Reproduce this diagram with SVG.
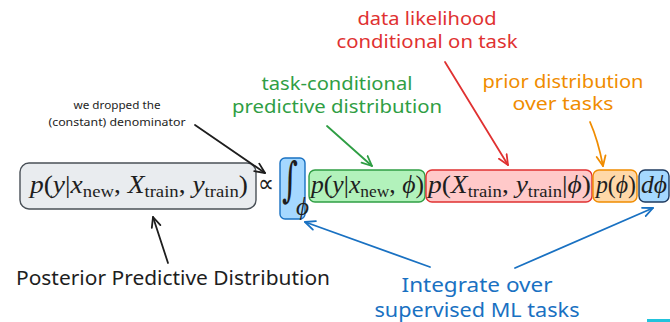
<svg xmlns="http://www.w3.org/2000/svg" width="670" height="322" viewBox="0 0 670 322">
<style>
  .hand { font-family: "Noto Sans", "Liberation Sans", sans-serif; }
  .m { font-family: "Liberation Serif", "DejaVu Serif", serif; font-size: 25px; fill: #1e1e1e; }
  .i { font-style: italic; }
  .sub { font-size: 17px; font-style: normal; }
  .conn { fill: none; stroke-width: 1.8; stroke-linecap: round; }
</style>
<defs>
  <marker id="ah-k" viewBox="0 0 12 12" refX="11" refY="6" markerWidth="12" markerHeight="12" markerUnits="userSpaceOnUse" orient="auto"><path d="M1,1.5 L11,6 L1,10.5" fill="none" stroke="#1e1e1e" stroke-width="1.8" stroke-linecap="round" stroke-linejoin="round"/></marker>
  <marker id="ah-g" viewBox="0 0 12 12" refX="11" refY="6" markerWidth="12" markerHeight="12" markerUnits="userSpaceOnUse" orient="auto"><path d="M1,1.5 L11,6 L1,10.5" fill="none" stroke="#2f9e44" stroke-width="1.8" stroke-linecap="round" stroke-linejoin="round"/></marker>
  <marker id="ah-r" viewBox="0 0 12 12" refX="11" refY="6" markerWidth="12" markerHeight="12" markerUnits="userSpaceOnUse" orient="auto"><path d="M1,1.5 L11,6 L1,10.5" fill="none" stroke="#e03131" stroke-width="1.8" stroke-linecap="round" stroke-linejoin="round"/></marker>
  <marker id="ah-o" viewBox="0 0 12 12" refX="11" refY="6" markerWidth="12" markerHeight="12" markerUnits="userSpaceOnUse" orient="auto"><path d="M1,1.5 L11,6 L1,10.5" fill="none" stroke="#f08c00" stroke-width="1.8" stroke-linecap="round" stroke-linejoin="round"/></marker>
  <marker id="ah-b" viewBox="0 0 12 12" refX="11" refY="6" markerWidth="12" markerHeight="12" markerUnits="userSpaceOnUse" orient="auto"><path d="M1,1.5 L11,6 L1,10.5" fill="none" stroke="#1971c2" stroke-width="1.8" stroke-linecap="round" stroke-linejoin="round"/></marker>
</defs>
<rect width="670" height="322" fill="#ffffff"/>

<g id="posterior">
  <rect x="20" y="163" width="236" height="46" rx="9" fill="#e9ecef" stroke="#495057" stroke-width="1.4"/>
  <text class="m" x="30" y="193" textLength="218" lengthAdjust="spacingAndGlyphs"><tspan class="i">p</tspan>(<tspan class="i">y</tspan>|<tspan class="i">x</tspan><tspan class="sub" dy="4">new</tspan><tspan dy="-4">, </tspan><tspan class="i">X</tspan><tspan class="sub" dy="4">train</tspan><tspan dy="-4">, </tspan><tspan class="i">y</tspan><tspan class="sub" dy="4">train</tspan><tspan dy="-4">)</tspan></text>
</g>

<g id="propto">
  <text x="258" y="192" font-family="DejaVu Sans, sans-serif" font-size="25" fill="#1e1e1e" textLength="16" lengthAdjust="spacingAndGlyphs">∝</text>
</g>

<g id="integral">
  <rect x="280" y="158" width="25" height="61" rx="5" fill="#a5d8ff" stroke="#1971c2" stroke-width="1.4"/>
  <text transform="translate(282,196) scale(0.9,1.4)" font-family="DejaVu Serif, serif" font-size="34" fill="#1e1e1e">∫</text>
  <text x="296" y="215" class="m i" font-size="13">ϕ</text>
</g>

<g id="task-predictive">
  <rect x="309" y="170" width="116" height="32" rx="6" fill="#b2f2bb" stroke="#2f9e44" stroke-width="1.4"/>
  <text class="m" x="311" y="193" textLength="113" lengthAdjust="spacingAndGlyphs"><tspan class="i">p</tspan>(<tspan class="i">y</tspan>|<tspan class="i">x</tspan><tspan class="sub" dy="4">new</tspan><tspan dy="-4">, </tspan><tspan class="i">ϕ</tspan>)</text>
</g>

<g id="likelihood">
  <rect x="426" y="170" width="166" height="32" rx="6" fill="#ffc9c9" stroke="#e03131" stroke-width="1.4"/>
  <text class="m" x="428" y="193" textLength="163" lengthAdjust="spacingAndGlyphs"><tspan class="i">p</tspan>(<tspan class="i">X</tspan><tspan class="sub" dy="4">train</tspan><tspan dy="-4">, </tspan><tspan class="i">y</tspan><tspan class="sub" dy="4">train</tspan><tspan dy="-4">|</tspan><tspan class="i">ϕ</tspan>)</text>
</g>

<g id="prior">
  <rect x="593" y="170" width="44" height="32" rx="6" fill="#ffd8a8" stroke="#f08c00" stroke-width="1.4"/>
  <text class="m" x="596" y="193" textLength="40" lengthAdjust="spacingAndGlyphs"><tspan class="i">p</tspan>(<tspan class="i">ϕ</tspan>)</text>
</g>

<g id="dphi">
  <rect x="639" y="170" width="30" height="32" rx="6" fill="#a5d8ff" stroke="#1e3a5f" stroke-width="1.4"/>
  <text class="m i" x="641" y="193" textLength="26" lengthAdjust="spacingAndGlyphs">dϕ</text>
</g>

<g id="labels" class="hand">
  <text x="117" y="109" text-anchor="middle" font-size="11" fill="#1e1e1e" textLength="87" lengthAdjust="spacingAndGlyphs">we dropped the</text>
  <text x="117" y="126" text-anchor="middle" font-size="11" fill="#1e1e1e" textLength="137" lengthAdjust="spacingAndGlyphs">(constant) denominator</text>
  <text x="337" y="90" text-anchor="middle" font-size="18" fill="#2f9e44" textLength="151" lengthAdjust="spacingAndGlyphs">task-conditional</text>
  <text x="337" y="113" text-anchor="middle" font-size="18" fill="#2f9e44" textLength="210" lengthAdjust="spacingAndGlyphs">predictive distribution</text>
  <text x="427" y="25" text-anchor="middle" font-size="18" fill="#e03131" textLength="139" lengthAdjust="spacingAndGlyphs">data likelihood</text>
  <text x="427" y="48" text-anchor="middle" font-size="18" fill="#e03131" textLength="181" lengthAdjust="spacingAndGlyphs">conditional on task</text>
  <text x="563" y="88" text-anchor="middle" font-size="18" fill="#f08c00" textLength="161" lengthAdjust="spacingAndGlyphs">prior distribution</text>
  <text x="563" y="110" text-anchor="middle" font-size="18" fill="#f08c00" textLength="101" lengthAdjust="spacingAndGlyphs">over tasks</text>
  <text x="173" y="285" text-anchor="middle" font-size="19" fill="#1e1e1e" textLength="314" lengthAdjust="spacingAndGlyphs">Posterior Predictive Distribution</text>
  <text x="477" y="292" text-anchor="middle" font-size="19" fill="#1971c2" textLength="151" lengthAdjust="spacingAndGlyphs">Integrate over</text>
  <text x="477" y="317" text-anchor="middle" font-size="19" fill="#1971c2" textLength="205" lengthAdjust="spacingAndGlyphs">supervised ML tasks</text>
</g>

<g id="connectors">
  <path class="conn" stroke="#1e1e1e" d="M195,125 L265,173" marker-end="url(#ah-k)"/>
  <path class="conn" stroke="#2f9e44" d="M327,126 L372,166" marker-end="url(#ah-g)"/>
  <path class="conn" stroke="#e03131" d="M445,62 L508,165" marker-end="url(#ah-r)"/>
  <path class="conn" stroke="#f08c00" d="M590,122 Q598,140 603,166" marker-end="url(#ah-o)"/>
  <path class="conn" stroke="#1e1e1e" d="M168,263 L153,217" marker-end="url(#ah-k)"/>
  <path class="conn" stroke="#1971c2" d="M430,267 L305,222" marker-end="url(#ah-b)"/>
  <path class="conn" stroke="#1971c2" d="M515,268 L653,208" marker-end="url(#ah-b)"/>
</g>

<rect x="647" y="319" width="23" height="3" fill="#22c3dc"/>
</svg>
